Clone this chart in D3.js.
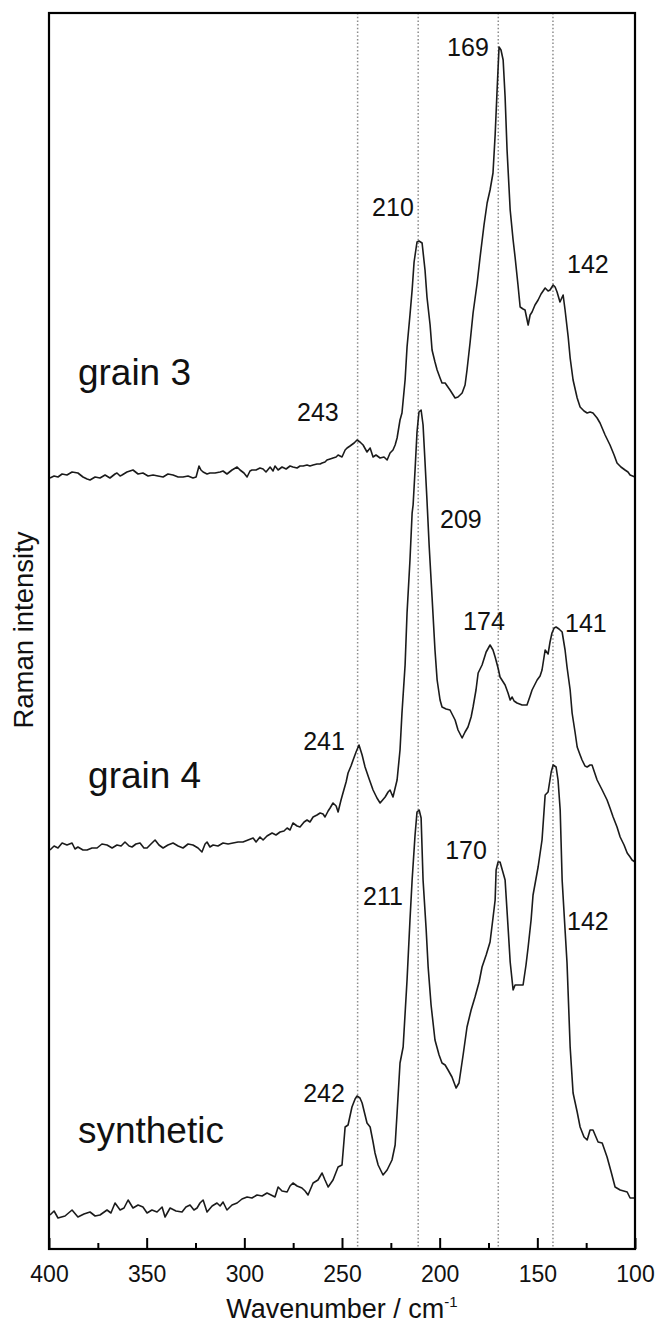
<!DOCTYPE html>
<html>
<head>
<meta charset="utf-8">
<script src="https://cdn.jsdelivr.net/npm/d3@7"></script>
<style>
  html, body { margin: 0; padding: 0; background: #fff; }
  #chart { width: 656px; height: 1324px; }
</style>
</head>
<body>
<div id="chart"></div>
<script>
// spectra: [wavenumber (cm-1), intensity (arb. units, own baseline)]
const synthetic = [
  [399.5,34],[397.4,38],[395.4,31],[391.8,33],[388.2,39],[385.2,32],[382.1,35],[379.0,37],[376.4,33],[373.9,34],
  [370.3,39],[368.3,36],[366.2,46],[363.6,39],[361.6,41],[359.5,49],[357.0,41],[354.4,44],[351.9,42],[349.8,36],
  [347.3,39],[344.7,37],[342.1,42],[340.6,32],[338.0,41],[335.0,38],[331.9,37],[329.9,42],[327.8,44],[325.8,39],
  [324.2,41],[322.7,46],[321.1,49],[319.1,37],[316.5,43],[314.0,46],[312.4,43],[310.9,47],[308.9,39],[306.3,44],
  [303.7,46],[301.2,50],[298.6,52],[296.1,51],[293.5,54],[290.9,53],[288.4,56],[286.3,54],[284.3,52],[282.7,62],
  [280.7,58],[278.1,57],[276.6,63],[275.1,66],[273.0,63],[270.5,61],[268.9,58],[267.4,54],[264.8,66],[262.3,69],
  [260.2,76],[258.7,69],[257.1,62],[254.6,69],[253.0,77],[252.0,82],[250.0,84],[248.4,122],[246.9,124],[244.9,142],
  [243.3,150],[242.3,153],[240.8,151],[239.7,146],[238.2,134],[237.2,126],[235.6,122],[234.1,107],[233.1,96],[231.5,84],
  [229.0,74],[226.9,79],[224.4,89],[222.8,104],[221.8,136],[220.3,186],[218.7,202],[216.7,269],[215.2,329],[214.1,369],
  [212.6,414],[211.6,437],[210.5,439],[209.5,431],[208.5,369],[206.9,319],[205.9,282],[204.4,244],[202.4,209],[200.3,194],
  [198.8,186],[197.2,184],[195.7,179],[193.7,172],[191.6,161],[190.1,166],[188.0,194],[186.0,222],[183.9,239],[181.9,252],
  [179.8,267],[178.3,282],[176.2,294],[174.2,307],[172.7,331],[171.6,349],[171.1,379],[170.1,387],[169.1,387],[167.5,376],
  [166.5,369],[164.9,319],[163.9,287],[162.4,259],[161.4,264],[160.4,264],[158.8,264],[157.3,264],[155.8,284],[154.7,302],
  [153.2,329],[152.2,354],[149.6,382],[147.6,409],[146.0,454],[144.5,457],[142.9,477],[141.9,484],[140.4,482],[139.4,469],
  [138.3,439],[137.3,369],[135.8,319],[134.8,286],[133.2,202],[131.7,156],[129.6,137],[128.1,122],[126.1,112],[124.5,109],
  [123.0,119],[121.5,119],[118.9,107],[116.8,106],[114.3,92],[112.2,77],[110.2,62],[107.6,59],[104.0,57],[102.5,51],[100.4,51]
];

const grain4 = [
  [399.5,29],[397.4,33],[395.4,31],[393.3,36],[390.8,34],[388.2,36],[386.7,30],[385.2,32],[382.6,29],[380.5,29],
  [378.0,31],[375.4,31],[372.9,35],[370.3,34],[367.7,31],[365.2,34],[363.1,33],[361.1,37],[359.0,33],[357.5,32],
  [355.5,35],[353.4,36],[351.4,31],[349.8,31],[347.8,35],[345.7,39],[343.7,34],[341.6,31],[339.1,34],[336.5,36],
  [333.9,33],[331.4,31],[328.8,35],[326.3,34],[323.7,31],[321.7,27],[320.1,35],[319.1,37],[317.6,32],[316.0,34],
  [313.5,33],[310.9,36],[308.3,35],[305.8,36],[303.2,37],[300.7,37],[298.1,39],[295.5,41],[294.0,37],[292.0,42],
  [290.4,39],[288.4,43],[285.8,46],[283.8,44],[281.7,47],[279.7,48],[278.1,51],[276.6,49],[275.1,56],[273.0,53],
  [271.5,52],[269.4,57],[267.9,59],[266.4,57],[264.8,62],[262.8,64],[261.2,66],[259.7,65],[258.7,62],[257.1,68],
  [256.1,71],[254.6,76],[253.0,73],[252.0,67],[250.5,79],[249.5,86],[247.9,97],[246.9,106],[245.4,113],[244.3,119],
  [242.8,127],[241.3,134],[239.7,124],[238.2,112],[236.1,100],[234.1,89],[232.1,81],[230.5,76],[227.9,82],[226.4,87],
  [225.4,89],[223.9,82],[221.8,99],[220.3,129],[219.3,166],[217.7,214],[216.7,266],[215.2,319],[214.1,366],[213.6,374],
  [212.6,409],[211.6,447],[210.6,467],[209.5,469],[208.5,454],[207.5,417],[206.5,379],[205.4,334],[203.9,282],[202.4,229],
  [201.3,199],[199.8,179],[198.8,172],[196.7,170],[194.7,169],[192.1,159],[190.6,149],[188.5,141],[187.0,147],[185.5,152],
  [183.9,162],[182.9,172],[181.4,189],[180.3,206],[178.3,214],[176.2,227],[174.2,234],[172.7,229],[171.6,222],[170.1,211],
  [169.1,202],[166.5,194],[165.0,186],[163.9,179],[162.9,182],[161.9,178],[160.4,176],[157.8,174],[155.3,174],[153.7,183],
  [152.7,189],[150.1,199],[148.6,203],[147.6,209],[146.0,229],[144.5,225],[143.5,237],[142.5,246],[141.4,251],[140.4,252],
  [138.9,250],[137.3,247],[135.8,229],[134.8,212],[133.2,189],[132.2,166],[130.7,147],[129.6,132],[128.1,124],[127.1,119],
  [125.6,113],[124.5,112],[123.0,114],[122.0,114],[119.4,99],[116.8,89],[114.3,79],[112.8,71],[111.2,62],[109.2,52],
  [107.6,42],[105.6,34],[104.0,26],[102.5,22],[101.5,19],[100.0,17]
];

const grain3 = [
  [399.5,31],[397.4,33],[395.4,32],[393.3,35],[390.8,34],[388.2,37],[385.2,36],[382.6,32],[380.5,30],[379.0,29],
  [376.4,32],[373.9,31],[371.3,34],[368.8,31],[366.2,35],[365.2,36],[363.6,33],[362.6,34],[360.1,37],[357.0,39],
  [354.4,35],[351.9,36],[349.3,33],[346.7,34],[344.2,33],[341.6,32],[339.1,35],[336.5,34],[333.9,32],[331.4,32],
  [328.8,33],[326.3,31],[324.7,32],[323.2,43],[322.2,39],[321.1,37],[319.1,35],[317.6,36],[315.0,36],[312.4,37],
  [310.9,38],[308.9,35],[306.3,39],[303.7,42],[302.2,39],[300.2,36],[298.6,32],[297.1,38],[296.1,39],[294.0,39],
  [292.0,41],[290.4,40],[288.9,37],[286.8,42],[285.3,38],[284.3,43],[282.7,39],[280.7,42],[278.6,40],[276.6,43],
  [275.1,42],[273.0,41],[271.5,43],[269.9,43],[267.9,44],[266.4,43],[264.8,44],[262.8,45],[261.2,45],[260.2,46],
  [258.7,47],[257.7,49],[256.1,50],[254.6,51],[253.0,52],[252.0,54],[250.0,52],[248.4,59],[247.4,61],[245.9,63],
  [243.8,66],[242.3,69],[240.8,67],[239.2,64],[237.2,57],[235.6,61],[234.1,52],[232.6,54],[230.5,51],[228.5,52],
  [226.9,49],[225.4,56],[223.9,59],[222.8,64],[221.8,71],[220.3,89],[219.3,96],[217.7,129],[216.7,162],[215.2,194],
  [214.1,219],[213.1,247],[211.6,267],[210.6,268],[209.0,266],[207.5,239],[206.5,212],[204.9,184],[203.9,159],[202.4,147],
  [201.3,139],[199.8,131],[198.8,126],[197.2,126],[194.7,119],[192.1,111],[190.6,112],[188.5,116],[187.0,124],[186.0,139],
  [184.4,167],[182.9,196],[180.8,226],[179.3,252],[177.3,284],[175.7,306],[174.2,319],[172.7,336],[171.6,374],[170.6,419],
  [169.6,462],[168.6,459],[167.5,449],[166.5,412],[165.5,359],[163.9,299],[162.4,269],[161.4,252],[159.9,224],[158.8,202],
  [157.3,200],[156.3,199],[154.7,184],[153.7,194],[152.7,197],[151.2,204],[149.6,209],[148.1,215],[146.0,221],[144.5,218],
  [143.5,219],[141.9,224],[140.9,222],[139.9,217],[138.4,207],[136.8,214],[135.8,199],[134.2,172],[133.2,151],[131.7,129],
  [129.6,111],[128.1,102],[126.1,98],[124.5,96],[123.0,97],[121.5,96],[119.4,91],[117.9,86],[115.3,74],[112.8,64],
  [110.7,54],[109.2,46],[107.2,42],[105.1,39],[103.6,37],[102.5,34],[100.0,32]
];

const seriesNames = ["synthetic", "grain 4", "grain 3"];
const seriesOffsets = [0, 370, 740];           // vertical stacking offsets (arb. units)
const refLines = [242, 211, 170, 142];          // dotted guide lines
const majorTicks = [400, 350, 300, 250, 200, 150, 100];
const minorTicks = [375, 325, 275, 225, 175, 125];

// peak labels: text, label x (wavenumber, left edge), label baseline (arb. units, absolute)
const peakText = ["169", "210", "142", "243", "209", "174", "141", "241", "170", "211", "142", "242"];
const peakX    = [196.2, 234.6, 134.8, 273.0, 199.8, 188.0, 135.8, 269.9, 197.2, 239.2, 134.8, 269.9];
const peakY    = [1193, 1033, 976, 828, 721, 619, 617, 499, 390, 344, 319, 147];

// series name labels: left edge (wavenumber), baseline (arb. units)
const nameX = [385.2, 380.0, 385.2];
const nameY = [106, 461, 864];

const width = 656, height = 1324;
const margin = { top: 13, right: 21, bottom: 75, left: 49 };
const font = "'Liberation Sans', Arial, Helvetica, sans-serif";

const x = d3.scaleLinear()
    .domain([400, 100])
    .range([margin.left, width - margin.right]);

const y = d3.scaleLinear()
    .domain([0, 1236])
    .range([height - margin.bottom, margin.top]);

const svg = d3.create("svg")
    .attr("width", width)
    .attr("height", height)
    .attr("viewBox", [0, 0, width, height])
    .attr("style", `font-family: ${font};`);

// dotted reference lines
svg.append("g")
    .selectAll("line")
    .data(refLines)
    .join("line")
    .attr("x1", d => x(d))
    .attr("x2", d => x(d))
    .attr("y1", margin.top)
    .attr("y2", height - margin.bottom)
    .attr("stroke", "#8c8c8c")
    .attr("stroke-width", 1.5)
    .attr("stroke-dasharray", "1.5,2.2");

// spectra
const line = d3.line()
    .x(d => x(d[0]))
    .y(d => y(d[1]));

const spectra = [synthetic, grain4, grain3];
svg.append("g")
    .selectAll("path")
    .data(spectra)
    .join("path")
    .attr("fill", "none")
    .attr("stroke", "#1b1b1b")
    .attr("stroke-width", 1.6)
    .attr("stroke-linejoin", "round")
    .attr("d", (s, i) => line(s.map(d => [d[0], d[1] + seriesOffsets[i]])));

// frame
svg.append("rect")
    .attr("x", margin.left)
    .attr("y", margin.top)
    .attr("width", width - margin.left - margin.right)
    .attr("height", height - margin.top - margin.bottom)
    .attr("fill", "none")
    .attr("stroke", "#000")
    .attr("stroke-width", 2.2);

// bottom axis, inward ticks
const axisY = height - margin.bottom;
const xAxis = svg.append("g").attr("transform", `translate(0,${axisY})`);

xAxis.append("g")
    .call(d3.axisBottom(x).tickValues(majorTicks).tickSizeInner(-11).tickSizeOuter(0).tickPadding(17).tickFormat(d3.format("d")))
    .call(g => g.select(".domain").remove())
    .call(g => g.selectAll(".tick line").attr("stroke", "#000").attr("stroke-width", 2))
    .call(g => g.selectAll(".tick text")
        .attr("font-family", font)
        .attr("font-size", 23)
        .attr("fill", "#111"));

xAxis.append("g")
    .call(d3.axisBottom(x).tickValues(minorTicks).tickSizeInner(-6).tickSizeOuter(0).tickFormat(""))
    .call(g => g.select(".domain").remove())
    .call(g => g.selectAll(".tick line").attr("stroke", "#000").attr("stroke-width", 2));

// axis titles
const xTitle = svg.append("text")
    .attr("x", (margin.left + width - margin.right) / 2)
    .attr("y", 1318)
    .attr("text-anchor", "middle")
    .attr("font-size", 27)
    .attr("fill", "#111");
xTitle.append("tspan").text("Wavenumber / cm");
xTitle.append("tspan")
    .attr("font-size", 15)
    .attr("dy", -11)
    .text("-1");

svg.append("text")
    .attr("transform", `translate(33,${630}) rotate(-90)`)
    .attr("text-anchor", "middle")
    .attr("font-size", 27.5)
    .attr("fill", "#111")
    .text("Raman intensity");

// peak labels
svg.append("g")
    .selectAll("text")
    .data(peakText)
    .join("text")
    .attr("x", (d, i) => x(peakX[i]))
    .attr("y", (d, i) => y(peakY[i]))
    .attr("font-size", 25)
    .attr("fill", "#111")
    .text(d => d);

// series names
svg.append("g")
    .selectAll("text")
    .data(seriesNames)
    .join("text")
    .attr("x", (d, i) => x(nameX[i]))
    .attr("y", (d, i) => y(nameY[i]))
    .attr("font-size", 37)
    .attr("fill", "#111")
    .text(d => d);

document.getElementById("chart").appendChild(svg.node());
</script>
</body>
</html>
